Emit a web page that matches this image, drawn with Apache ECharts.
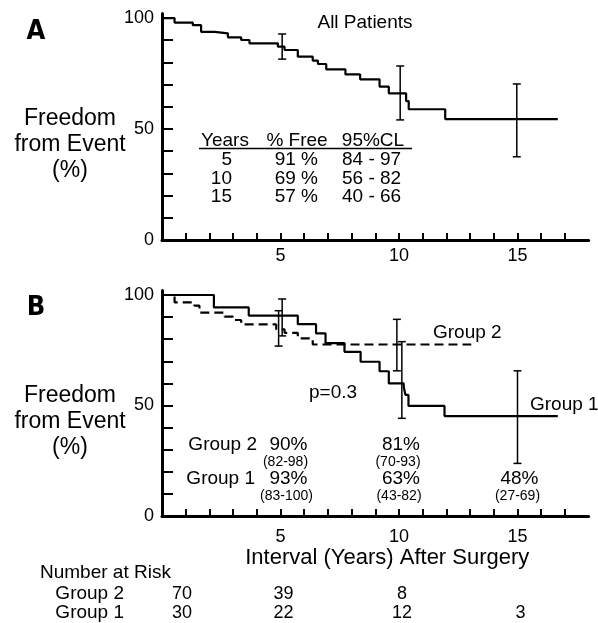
<!DOCTYPE html>
<html>
<head>
<meta charset="utf-8">
<script src="https://cdn.jsdelivr.net/npm/echarts@6/dist/echarts.min.js"></script>
<style>html,body{margin:0;padding:0;background:#fff}#c{width:598px;height:623px}</style>
</head>
<body>
<div id="c"></div>
<script>
// ---- Panel A: all patients (Kaplan-Meier step values) ----
const allTimes = [0, 0.53, 1.3, 1.65, 2.22, 2.78, 3.34, 3.69, 4.89, 5.17, 5.73, 6.36, 6.58, 6.93, 7.74, 8.36, 9.18, 9.57, 10.3, 10.41, 11.95, 16.7];
const allFree  = [100, 97.9, 96.8, 93.8, 93.1, 91.3, 90.1, 88.6, 87.1, 85.6, 82.6, 80.8, 79.3, 76.9, 74.6, 72.4, 69.1, 66.1, 62.6, 58.9, 54.5, 54.5];
const allCI = [[5.07, 81.5, 92.8], [10.05, 54.1, 78.4], [14.97, 37.5, 70.3]];

// ---- Panel B: group curves ----
const g1Times = [0, 2.19, 3.66, 5.73, 6.5, 6.9, 7.7, 8.38, 9.18, 9.57, 10.2, 10.27, 10.4, 11.92, 16.7];
const g1Free  = [100, 94.4, 90.7, 86.8, 82.6, 78.2, 74.3, 69.8, 65.5, 60, 58.5, 54.8, 49.8, 45.2, 45.2];
const g2Times = [0, 0.53, 1.37, 1.58, 2.64, 2.99, 3.34, 4.82, 5.17, 5.73, 6.36, 13.05];
const g2Free  = [100, 96.7, 95.2, 92, 90.2, 88.7, 86.7, 84.5, 82.9, 80.4, 77.6, 77.6];
const g1CI = [[4.92, 76.9, 92.9], [10.12, 44.2, 78.9], [15, 23.8, 65.7]];
const g2CI = [[5.07, 81.5, 98.2], [9.91, 65.7, 89]];

// ---- Axis ticks / labels ----
const xTickValues = [1,2,3,4,5,6,7,8,9,10,11,12,13,14,15,16,17];
const xLabelValues = [5, 10, 15];
const yTickValues = [0,10,20,30,40,50,60,70,80,90,100];
const yLabelValues = [0, 50, 100];

// ---- Panel A table ----
const tableHeader = ['Years', '% Free', '95%CL'];
const tableYears = ['5', '10', '15'];
const tablePct = ['91 %', '69 %', '57 %'];
const tableCL = ['84 - 97', '56 - 82', '40 - 66'];

// ---- Panel B annotations ----
const annYears = [5, 10, 15];
const g2Pct = ['90%', '81%', ''];
const g2Range = ['(82-98)', '(70-93)', ''];
const g1Pct = ['93%', '63%', '48%'];
const g1Range = ['(83-100)', '(43-82)', '(27-69)'];

// ---- Number at risk ----
const riskTimes = [0, 5, 10, 15];
const riskG2 = ['70', '39', '8', ''];
const riskG1 = ['30', '22', '12', '3'];

const FONT = "'Liberation Sans', Arial, Helvetica, sans-serif";
const pairs = (t, v) => t.map((x, i) => [x, v[i]]);

function ciRender(params, api) {
  const x = api.value(0), lo = api.value(1), hi = api.value(2);
  const a = api.coord([x, lo]), b = api.coord([x, hi]);
  const w = 4, st = { stroke: '#000', lineWidth: 1.5 };
  return { type: 'group', children: [
    { type: 'line', shape: { x1: a[0], y1: a[1], x2: b[0], y2: b[1] }, style: st },
    { type: 'line', shape: { x1: a[0] - w, y1: a[1], x2: a[0] + w, y2: a[1] }, style: st },
    { type: 'line', shape: { x1: b[0] - w, y1: b[1], x2: b[0] + w, y2: b[1] }, style: st }
  ]};
}

function xAx(gi, margin, extra) {
  return Object.assign({
    type: 'value', gridIndex: gi, min: 0, max: 18,
    axisLine: { onZero: false, lineStyle: { color: '#000', width: 3 } },
    axisTick: { inside: true, length: 7, customValues: xTickValues, lineStyle: { color: '#000', width: 2 } },
    axisLabel: { customValues: xLabelValues, color: '#000', fontSize: 18, fontFamily: FONT, margin: margin },
    splitLine: { show: false }
  }, extra || {});
}
function yAx(gi) {
  return {
    type: 'value', gridIndex: gi, min: 0, max: 102,
    axisLine: { onZero: false, lineStyle: { color: '#000', width: 3 } },
    axisTick: { inside: true, length: 11, customValues: yTickValues, lineStyle: { color: '#000', width: 2 } },
    axisLabel: { customValues: yLabelValues, color: '#000', fontSize: 18, fontFamily: FONT, margin: 8 },
    splitLine: { show: false }
  };
}

const chart = echarts.init(document.getElementById('c'));
chart.setOption({
  animation: false,
  backgroundColor: '#fff',
  grid: [
    { left: 162, top: 13.6, width: 426.6, height: 226.4 },
    { left: 162, top: 290.6, width: 426.6, height: 225.4 }
  ],
  xAxis: [
    xAx(0, 7),
    xAx(1, 12, { name: 'Interval (Years) After Surgery', nameLocation: 'middle', nameGap: 29,
      nameTextStyle: { color: '#000', fontSize: 22, fontFamily: FONT, padding: [0, 0, 0, 24] } })
  ],
  yAxis: [yAx(0), yAx(1)],
  series: [
    { type: 'line', xAxisIndex: 0, yAxisIndex: 0, step: 'end', symbol: 'none', data: pairs(allTimes, allFree),
      lineStyle: { color: '#000', width: 2.2 } },
    { type: 'custom', xAxisIndex: 0, yAxisIndex: 0, renderItem: ciRender, data: allCI },
    { type: 'line', xAxisIndex: 1, yAxisIndex: 1, step: 'end', symbol: 'none', data: pairs(g2Times, g2Free),
      lineStyle: { color: '#000', width: 2.2, type: [9, 5] } },
    { type: 'line', xAxisIndex: 1, yAxisIndex: 1, step: 'end', symbol: 'none', data: pairs(g1Times, g1Free),
      lineStyle: { color: '#000', width: 2.2 } },
    { type: 'custom', xAxisIndex: 1, yAxisIndex: 1, renderItem: ciRender, data: g2CI },
    { type: 'custom', xAxisIndex: 1, yAxisIndex: 1, renderItem: ciRender, data: g1CI }
  ]
});

function txt(text, x, y, size, align, extra) {
  return { type: 'text', x: x, y: y, z: 10, style: Object.assign({
    text: text, fill: '#000', fontSize: size, fontFamily: FONT, align: align || 'center', verticalAlign: 'middle'
  }, extra || {}) };
}
const px = (gi, t) => chart.convertToPixel({ xAxisIndex: gi, yAxisIndex: gi }, [t, 0])[0];

const g = [];
// panel letters
g.push(txt('A', 36, 32, 27, 'center', { fontWeight: 'bold', fontFamily: "'DejaVu Sans Condensed', 'Liberation Sans Narrow', 'DejaVu Sans', sans-serif" }));
g.push(txt('B', 36, 308, 27, 'center', { fontWeight: 'bold', fontFamily: "'DejaVu Sans Condensed', 'Liberation Sans Narrow', 'DejaVu Sans', sans-serif" }));
// y titles
g.push(txt('Freedom\nfrom Event\n(%)', 70, 145, 23, 'center', { lineHeight: 26 }));
g.push(txt('Freedom\nfrom Event\n(%)', 70, 422, 23, 'center', { lineHeight: 26 }));
// panel A
g.push(txt('All Patients', 365, 23, 19));
g.push(txt(tableHeader[0], 225, 141, 19));
g.push(txt(tableHeader[1], 297, 141, 19));
g.push(txt(tableHeader[2], 373, 141, 19));
g.push({ type: 'line', z: 10, shape: { x1: 199, y1: 148.5, x2: 412, y2: 148.5 }, style: { stroke: '#000', lineWidth: 1.5 } });
tableYears.forEach((v, i) => {
  const y = 160 + i * 18.4;
  g.push(txt(v, 232, y, 19, 'right'));
  g.push(txt(tablePct[i], 318, y, 19, 'right'));
  g.push(txt(tableCL[i], 342, y, 19, 'left'));
});
// panel B labels
g.push(txt('Group 2', 433, 333, 19, 'left'));
g.push(txt('Group 1', 530, 405, 19, 'left'));
g.push(txt('p=0.3', 333, 393, 19));
g.push(txt('Group 2', 257, 445, 19, 'right'));
g.push(txt('Group 1', 255, 479, 19, 'right'));
annYears.forEach((t, i) => {
  const off = i === 0 ? 8 : 2;
  const x = px(1, t) + off;
  if (g2Pct[i]) g.push(txt(g2Pct[i], x, 445, 19));
  if (g2Range[i]) g.push(txt(g2Range[i], x - 3, 462, 14));
  g.push(txt(g1Pct[i], x, 479, 19));
  g.push(txt(g1Range[i], x - 2, 496, 14));
});
// number at risk
g.push(txt('Number at Risk', 40, 573, 19, 'left'));
g.push(txt('Group 2', 124, 594, 19, 'right'));
g.push(txt('Group 1', 124, 613, 19, 'right'));
riskTimes.forEach((t, i) => {
  const x = px(1, t) + (i === 0 ? 20 : 3);
  if (riskG2[i]) g.push(txt(riskG2[i], x, 594, 18));
  g.push(txt(riskG1[i], x, 613, 18));
});
chart.setOption({ graphic: g });
</script>
</body>
</html>
